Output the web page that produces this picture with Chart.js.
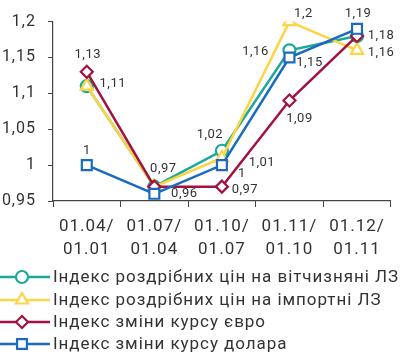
<!DOCTYPE html>
<html><head><meta charset="utf-8">
<script src="https://cdn.jsdelivr.net/npm/chart.js@4"></script>
<style>html,body{margin:0;padding:0;background:#fff;}canvas{display:block;}</style>
</head><body>
<canvas id="c" width="400" height="357"></canvas>
<script>
const categories = [["01.04/","01.01"],["01.07/","01.04"],["01.10/","01.07"],["01.11/","01.10"],["01.12/","01.11"]];
const domesticPrices = [1.11, 0.97, 1.02, 1.16, 1.18];
const importPrices = [1.11, 0.97, 1.01, 1.20, 1.16];
const euroRate = [1.13, 0.97, 0.97, 1.09, 1.18];
const dollarRate = [1.00, 0.96, 1.00, 1.15, 1.19];
const seriesNames = ["Індекс роздрібних цін на вітчизняні ЛЗ","Індекс роздрібних цін на імпортні ЛЗ","Індекс зміни курсу євро","Індекс зміни курсу долара"];
const yTicks = [0.95, 1.0, 1.05, 1.1, 1.15, 1.2];

// label placement (dx, dy from point), null = no label
const labelOffsets = [
  [[26,-2],[9,-18],[-12,-16],[-34,1],[24,0]],
  [null,null,[40,5],[14,-8],[24,2]],
  [[1,-17],null,[23,3],[10,18],null],
  [[0,-14],[30,0],[20,9],[20,5],[1,-15]]
];
const fmt = v => String(+v.toFixed(2)).replace('.', ',');

const colors = ['#1aa99a','#fdd443','#a3123f','#1a6bbf'];
const styles = ['circle','triangle','rectRot','rect'];
const radii = [6,7,6,7];
const orders = [3,2,1,0];
const allData = [domesticPrices, importPrices, euroRate, dollarRate];

const datasets = allData.map((d,i)=>({
  label: seriesNames[i], data: d, borderColor: colors[i], backgroundColor:'#fff',
  pointBackgroundColor:'#fff', pointBorderColor: colors[i], pointStyle: styles[i],
  pointRadius: radii[i], pointBorderWidth: 2.2, borderWidth: 2.5, tension:0, order: orders[i]
}));

const FONT = 'Roboto, "DejaVu Sans", sans-serif';

const labelPlugin = {
  id:'labels',
  beforeDraw(chart){ chart.ctx.letterSpacing = '1px'; },
  afterDatasetsDraw(chart){
    const ctx = chart.ctx;
    ctx.save();
    ctx.font = '13px ' + FONT;
    ctx.letterSpacing = '0.5px';
    ctx.fillStyle = '#333';
    ctx.textAlign='center'; ctx.textBaseline='middle';
    chart.data.datasets.forEach((ds,i)=>{
      const meta = chart.getDatasetMeta(i);
      meta.data.forEach((pt,j)=>{
        const off = labelOffsets[i][j];
        if(!off) return;
        ctx.fillText(fmt(ds.data[j]), pt.x+off[0], pt.y+off[1]);
      });
    });
    ctx.restore();
  },
  afterDraw(chart){
    const ctx = chart.ctx;
    ctx.save();
    const rowY = [277,300,322,344];
    chart.data.datasets.forEach((ds,i)=>{
      const y = rowY[i];
      ctx.strokeStyle = ds.borderColor; ctx.lineWidth = 2.5;
      ctx.beginPath(); ctx.moveTo(0,y); ctx.lineTo(50,y); ctx.stroke();
      ctx.fillStyle = '#fff'; ctx.strokeStyle = ds.borderColor; ctx.lineWidth = ds.pointBorderWidth;
      Chart.helpers.drawPoint(ctx, {pointStyle: ds.pointStyle, rotation:0, radius: ds.pointRadius, borderWidth: ds.pointBorderWidth}, 22, y);
      ctx.font = '17px ' + FONT; ctx.letterSpacing = '0.95px';
      ctx.fillStyle='#333'; ctx.textBaseline='middle'; ctx.textAlign='left';
      ctx.fillText(ds.label, 53, y+1);
    });
    ctx.restore();
  }
};

new Chart(document.getElementById('c'), {
  type:'line',
  data:{ labels: categories, datasets },
  options:{
    responsive:false, animation:false,
    layout:{ padding:{ top:18, right:7, bottom:100, left:0 } },
    plugins:{ legend:{display:false}, tooltip:{enabled:false} },
    scales:{
      x:{
        offset:true,
        grid:{ display:true, drawOnChartArea:false, drawTicks:true, tickLength:6, color:'#444', offset:true },
        border:{ color:'#444', width:1.2 },
        ticks:{ color:'#333', font:{ size:17, family: FONT, lineHeight:1.35 }, padding:8, maxRotation:0, autoSkip:false },
        afterFit(s){ s.height = 56; }
      },
      y:{
        min:0.95, max:1.2,
        afterBuildTicks(s){ s.ticks = yTicks.map(v=>({value:v})); },
        grid:{ display:true, drawOnChartArea:false, drawTicks:true, tickLength:5, color:'#444' },
        border:{ color:'#444', width:1.2 },
        ticks:{ color:'#333', font:{ size:16, family: FONT }, padding:12, callback:v=>fmt(v) },
        afterFit(s){ s.width = 53; }
      }
    }
  },
  plugins:[labelPlugin]
});
</script>
</body></html>
